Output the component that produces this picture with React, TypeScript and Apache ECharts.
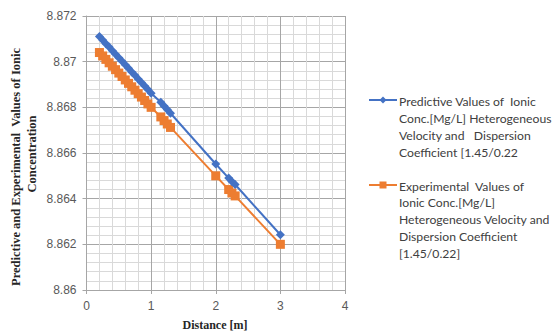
import React, { useEffect, useRef } from "react";
import * as echarts from "echarts";

const distance: number[] = [
  0.2, 0.25, 0.3, 0.35, 0.4, 0.45, 0.5, 0.55, 0.6, 0.65, 0.7, 0.75, 0.8, 0.85,
  0.9, 0.95, 1.0, 1.15, 1.2, 1.25, 1.3, 2.0, 2.2, 2.25, 2.3, 3.0,
];

const predictive: number[] = [
  8.8711, 8.87095, 8.87079, 8.87064, 8.87048, 8.87033, 8.87017, 8.87002,
  8.86986, 8.86971, 8.86955, 8.8694, 8.86924, 8.86909, 8.86893, 8.86878,
  8.86862, 8.86822, 8.86806, 8.8679, 8.86774, 8.86552, 8.8649, 8.86475,
  8.86462, 8.86242,
];

const experimental: number[] = [
  8.8704, 8.87025, 8.8701, 8.86995, 8.8698, 8.86965, 8.8695, 8.86935, 8.8692,
  8.86905, 8.8689, 8.86875, 8.8686, 8.86845, 8.8683, 8.86815, 8.868, 8.86758,
  8.86742, 8.86727, 8.86712, 8.865, 8.8644, 8.86425, 8.86412, 8.862,
];

const seriesNames: string[] = [
  "Predictive Values of  Ionic Conc.[Mg/L] Heterogeneous Velocity and   Dispersion Coefficient [1.45/0.22",
  "Experimental  Values of Ionic Conc.[Mg/L] Heterogeneous Velocity and Dispersion Coefficient [1.45/0.22]",
];

const legendLines1: string[] = [
  "Predictive Values of  Ionic",
  "Conc.[Mg/L] Heterogeneous",
  "Velocity and   Dispersion",
  "Coefficient [1.45/0.22",
];
const legendLines2: string[] = [
  "Experimental  Values of",
  "Ionic Conc.[Mg/L]",
  "Heterogeneous Velocity and",
  "Dispersion Coefficient",
  "[1.45/0.22]",
];

const yTitle1 = "Predictive and Experimental  Values of Ionic";
const yTitle2 = "Concentration";
const xTitle = "Distance [m]";

const BLUE = "#4472c4";
const ORANGE = "#ed7d31";

export default function App() {
  const ref = useRef<HTMLDivElement>(null);
  useEffect(() => {
    if (!ref.current) return;
    const chart = echarts.init(ref.current, undefined, { renderer: "svg" });
    const legendFont = {
      fontFamily: "Lato, 'Liberation Sans', sans-serif",
      fontSize: 12.2,
      fill: "#404040",
    };
    const legendText = (lines: string[], x: number, y0: number, lh: number) =>
      lines.map((t, i) => ({
        type: "text",
        x,
        y: y0 + i * lh,
        style: { ...legendFont, text: t, verticalAlign: "middle" },
      }));
    const iconY1 = 100;
    const iconY2 = 185;
    const titleStyle = {
      fontFamily: "'Liberation Serif', 'Times New Roman', serif",
      fontWeight: "bold",
      fill: "#262626",
      align: "center",
      verticalAlign: "middle",
    };
    chart.setOption({
      animation: false,
      backgroundColor: "#ffffff",
      grid: { left: 86.5, top: 16, width: 258.5, height: 274 },
      xAxis: {
        type: "value",
        min: 0,
        max: 4,
        interval: 1,
        axisLine: { show: true, lineStyle: { color: "#a6a6a6", width: 1 } },
        axisTick: { show: true, length: 4, lineStyle: { color: "#a6a6a6" } },
        axisLabel: {
          color: "#595959",
          fontSize: 12,
          fontFamily: "'Liberation Sans', Arial, sans-serif",
          margin: 10,
        },
        splitLine: { show: true, lineStyle: { color: "#a6a6a6", width: 1 } },
        minorTick: { show: false, splitNumber: 5 },
        minorSplitLine: { show: true, lineStyle: { color: "#d9d9d9", width: 1 } },
      },
      yAxis: {
        type: "value",
        min: 8.86,
        max: 8.872,
        interval: 0.002,
        axisLine: { show: true, lineStyle: { color: "#a6a6a6", width: 1 } },
        axisTick: { show: true, length: 4, lineStyle: { color: "#a6a6a6" } },
        axisLabel: {
          color: "#595959",
          fontSize: 12,
          fontFamily: "'Liberation Sans', Arial, sans-serif",
          margin: 10,
          formatter: (v: number) => String(parseFloat(v.toFixed(3))),
        },
        splitLine: { show: true, lineStyle: { color: "#a6a6a6", width: 1 } },
        minorTick: { show: false, splitNumber: 5 },
        minorSplitLine: { show: true, lineStyle: { color: "#d9d9d9", width: 1 } },
      },
      series: [
        {
          name: seriesNames[0],
          type: "line",
          data: distance.map((d, i) => [d, predictive[i]]),
          symbol: "diamond",
          symbolSize: 9,
          lineStyle: { color: BLUE, width: 2 },
          itemStyle: { color: BLUE },
          z: 3,
        },
        {
          name: seriesNames[1],
          type: "line",
          data: distance.map((d, i) => [d, experimental[i]]),
          symbol: "rect",
          symbolSize: 9,
          lineStyle: { color: ORANGE, width: 2 },
          itemStyle: { color: ORANGE },
          z: 2,
        },
      ],
      graphic: [
        {
          type: "text",
          x: 16,
          y: 167,
          rotation: Math.PI / 2,
          style: { ...titleStyle, text: yTitle1, fontSize: 12.5 },
        },
        {
          type: "text",
          x: 32,
          y: 154,
          rotation: Math.PI / 2,
          style: { ...titleStyle, text: yTitle2, fontSize: 12.5 },
        },
        {
          type: "text",
          x: 215,
          y: 325,
          style: { ...titleStyle, text: xTitle, fontSize: 12 },
        },
        {
          type: "line",
          shape: { x1: 369, y1: iconY1, x2: 397, y2: iconY1 },
          style: { stroke: BLUE, lineWidth: 2 },
        },
        {
          type: "polygon",
          shape: {
            points: [
              [383, iconY1 - 3.5],
              [386.5, iconY1],
              [383, iconY1 + 3.5],
              [379.5, iconY1],
            ],
          },
          style: { fill: BLUE },
        },
        ...legendText(legendLines1, 399, 101, 17),
        {
          type: "line",
          shape: { x1: 369, y1: iconY2, x2: 397, y2: iconY2 },
          style: { stroke: ORANGE, lineWidth: 2 },
        },
        {
          type: "rect",
          shape: { x: 379.5, y: iconY2 - 3.5, width: 7, height: 7 },
          style: { fill: ORANGE },
        },
        ...legendText(legendLines2, 399, 186, 16.8),
      ],
    });
    return () => chart.dispose();
  }, []);
  return (
    <div
      ref={ref}
      style={{ position: "absolute", left: 0, top: 0, width: 557, height: 332 }}
    />
  );
}
